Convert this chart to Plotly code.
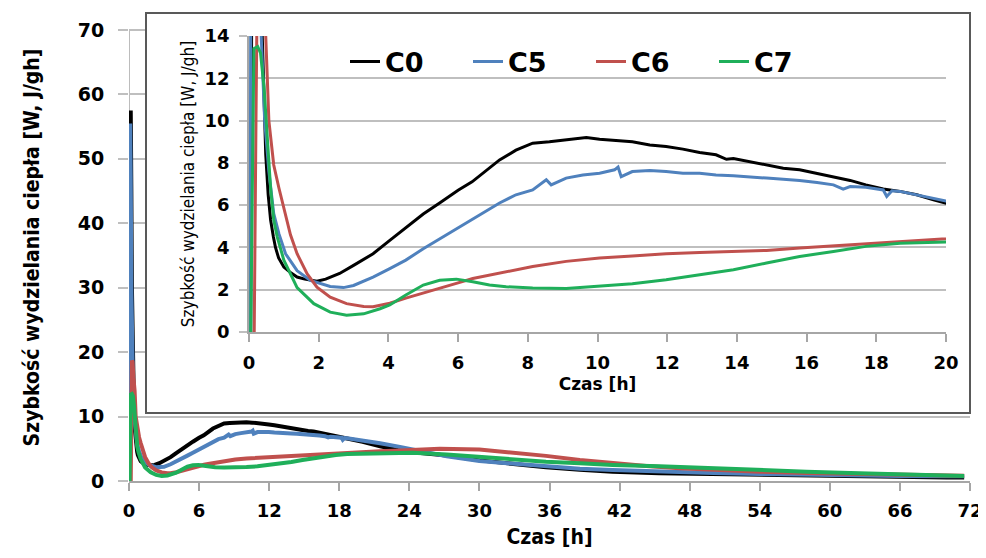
import plotly.graph_objects as go

# ---------------- data ----------------
series_names = ["C0", "C5", "C6", "C7"]
series_colors = ["#000000", "#4F81BD", "#C0504D", "#1FAF5A"]

c0_t = [0.05, 0.15, 0.2, 0.25, 0.3, 0.38, 0.43, 0.48, 0.55, 0.62, 0.7, 0.76, 0.85, 1.0, 1.2, 1.38, 1.6,
        1.76, 1.95, 2.2, 2.6, 3.0, 3.56, 4.04, 4.5, 5.0, 5.47, 6.0, 6.4, 7.19, 7.66, 8.14, 8.62, 9.1,
        9.68, 10.06, 10.54, 11.0, 11.5, 11.97, 12.45, 12.93, 13.4, 13.7, 13.9, 14.37, 14.85, 15.33,
        15.8, 16.3, 16.77, 17.25, 17.7, 18.2, 18.68, 19.16, 19.64, 20.0, 21.5, 23.0, 24.3, 27.2,
        30.0, 32.9, 35.7, 38.6, 41.4, 45.4, 50.0, 54.0, 58.0, 62.5, 66.0, 70.0, 71.5]
c0_v = [0.0, 57.5, 45.0, 30.0, 20.0, 14.0, 11.0, 8.4, 6.5, 5.3, 4.5, 4.0, 3.5, 3.07, 2.8, 2.6, 2.5,
        2.44, 2.4, 2.5, 2.77, 3.15, 3.7, 4.33, 4.95, 5.58, 6.1, 6.7, 7.1, 8.14, 8.6, 8.93, 9.0, 9.09,
        9.2, 9.12, 9.06, 9.0, 8.85, 8.77, 8.65, 8.49, 8.38, 8.17, 8.2, 8.06, 7.9, 7.75,
        7.67, 7.5, 7.35, 7.17, 6.96, 6.76, 6.65, 6.49, 6.25, 6.09, 5.4, 4.8, 4.45, 3.95,
        3.2, 2.64, 2.12, 1.75, 1.45, 1.2, 1.05, 0.95, 0.8, 0.65, 0.6, 0.55, 0.55]

c5_t = [0.03, 0.1, 0.15, 0.2, 0.25, 0.3, 0.35, 0.45, 0.57, 0.71, 0.86, 1.05, 1.38, 1.76, 2.33, 2.71,
        3.0, 3.56, 4.04, 4.5, 5.0, 5.47, 5.95, 6.42, 6.9, 7.19, 7.66, 8.14, 8.53, 8.67, 9.1, 9.58,
        10.06, 10.49, 10.59, 10.68, 11.0, 11.5, 11.97, 12.45, 12.93, 13.4, 13.9, 14.37, 14.85, 15.33,
        15.8, 16.3, 16.77, 17.05, 17.25, 17.7, 18.2, 18.3, 18.45, 18.68, 19.16, 19.64, 20.0, 21.5,
        23.2, 24.3, 27.2, 30.0, 32.9, 35.7, 38.6, 41.4, 45.4, 50.0, 54.0, 58.0, 62.5, 66.0, 70.0, 71.5]
c5_v = [0.0, 55.5, 47.0, 30.0, 20.0, 16.0, 14.0, 10.0, 7.6, 5.6, 4.64, 3.7, 2.9, 2.44, 2.15, 2.1,
        2.2, 2.6, 3.0, 3.4, 3.94, 4.4, 4.88, 5.34, 5.8, 6.1, 6.49, 6.72, 7.2, 6.96, 7.28, 7.43,
        7.51, 7.67, 7.8, 7.35, 7.59, 7.64, 7.59, 7.51, 7.51, 7.43, 7.39, 7.32, 7.28, 7.23,
        7.17, 7.07, 6.96, 6.76, 6.88, 6.85, 6.72, 6.41, 6.68, 6.65, 6.49, 6.33, 6.2, 5.85,
        5.3, 4.9, 3.85, 3.1, 2.7, 2.25, 1.9, 1.7, 1.45, 1.25, 1.1, 0.95, 0.8, 0.78, 0.75, 0.75]

c6_t = [0.1, 0.15, 0.2, 0.25, 0.3, 0.38, 0.48, 0.57, 0.71, 0.86, 1.0, 1.19, 1.38, 1.67, 1.95, 2.33,
        2.8, 3.29, 3.56, 4.04, 4.5, 5.0, 5.47, 5.95, 6.42, 6.9, 7.38, 8.14, 9.1, 10.06, 11.0, 11.97,
        12.93, 13.9, 14.85, 15.8, 16.77, 17.7, 18.68, 20.0, 21.5, 23.2, 26.6, 30.0, 32.9, 35.7, 38.6,
        41.4, 44.3, 47.1, 50.0, 54.0, 58.0, 62.5, 66.0, 70.0, 71.5]
c6_v = [0.0, 0.0, 10.0, 18.7, 18.5, 16.0, 14.0, 10.0, 7.9, 6.8, 5.9, 4.6, 3.7, 2.75, 2.12, 1.65,
        1.34, 1.21, 1.2, 1.36, 1.6, 1.83, 2.06, 2.3, 2.53, 2.69, 2.84, 3.1, 3.34, 3.5, 3.6, 3.7,
        3.76, 3.81, 3.86, 3.97, 4.08, 4.2, 4.28, 4.44, 4.6, 4.75, 5.0, 4.9, 4.4, 3.9, 3.26,
        2.75, 2.33, 1.97, 1.7, 1.45, 1.25, 1.1, 0.95, 0.8, 0.8]

c7_t = [0.05, 0.1, 0.14, 0.25, 0.33, 0.43, 0.52, 0.62, 0.71, 0.81, 1.0, 1.38, 1.86, 2.33, 2.8, 3.29,
        3.76, 4.04, 4.5, 5.0, 5.47, 5.95, 6.42, 6.9, 7.38, 8.14, 9.1, 10.06, 11.0, 11.97, 12.93,
        13.9, 14.85, 15.8, 16.77, 17.7, 18.68, 20.0, 21.5, 23.2, 24.3, 27.2, 30.0, 32.9, 35.7,
        38.6, 41.4, 45.4, 50.0, 54.0, 58.0, 62.5, 66.0, 70.0, 71.5]
c7_v = [0.0, 8.0, 13.4, 13.5, 13.2, 11.6, 9.2, 6.8, 5.3, 4.5, 3.4, 2.1, 1.34, 0.94, 0.79, 0.86,
        1.1, 1.28, 1.75, 2.22, 2.45, 2.5, 2.38, 2.22, 2.14, 2.08, 2.06, 2.16, 2.28, 2.47, 2.71,
        2.94, 3.26, 3.57, 3.81, 4.05, 4.2, 4.28, 4.35, 4.4, 4.4, 4.1, 3.7, 3.3, 3.0,
        2.75, 2.5, 2.3, 1.95, 1.7, 1.45, 1.2, 1.0, 0.82, 0.78]

main_x_ticks = [0, 6, 12, 18, 24, 30, 36, 42, 48, 54, 60, 66, 72]
main_y_ticks = [0, 10, 20, 30, 40, 50, 60, 70]
inset_x_ticks = [0, 2, 4, 6, 8, 10, 12, 14, 16, 18, 20]
inset_y_ticks = [0, 2, 4, 6, 8, 10, 12, 14]

y_title = "Szybkość wydzielania ciepła [W, J/gh]"
x_title = "Czas [h]"

all_t = [c0_t, c5_t, c6_t, c7_t]
all_v = [c0_v, c5_v, c6_v, c7_v]

# ---------------- styling ----------------
GRID = "#BFBFBF"
AXIS = "#A6A6A6"
TICKFONT = dict(family="DejaVu Sans", size=19, color="black", weight="bold")
XTICKFONT = dict(family="DejaVu Sans", size=18, color="black", weight="bold")
INSET_TICKFONT = dict(family="DejaVu Sans", size=18, color="black", weight="bold")
NARROW = "Liberation Sans Narrow, DejaVu Sans Condensed, Arial Narrow, sans-serif"

fig = go.Figure()

# main traces
for name, col, t, v in zip(series_names, series_colors, all_t, all_v):
    fig.add_trace(go.Scatter(x=t, y=v, mode="lines", name=name, showlegend=False,
                             line=dict(color=col, width=4), xaxis="x", yaxis="y"))

# frame subplot (empty), drawn above main plot
fig.add_trace(go.Scatter(x=[], y=[], showlegend=False, xaxis="x2", yaxis="y2", hoverinfo="skip"))

# inset traces
for name, col, t, v in zip(series_names, series_colors, all_t, all_v):
    fig.add_trace(go.Scatter(x=t, y=v, mode="lines", name=name, showlegend=True,
                             line=dict(color=col, width=3), xaxis="x3", yaxis="y3"))

# page has an 8px body margin: the figure is offset by OFF pixels
OFF = 8
W, H = 978, 550
ML, MR, MT, MB = 121, 16, 6, 77
pw, ph = W - ML - MR, H - MT - MB


def px_x(px):
    return min(1.0, max(0.0, (px - OFF - ML) / pw))


def px_y(py):
    return min(1.0, max(0.0, (H - MB - (py - OFF)) / ph))


fig.update_layout(
    width=W, height=H,
    margin=dict(l=ML, r=MR, t=MT, b=MB, autoexpand=False),
    paper_bgcolor="white", plot_bgcolor="white",
    xaxis=dict(domain=[0, 1], range=[0, 72], tickvals=main_x_ticks, showgrid=False,
               showline=True, linecolor=AXIS, linewidth=1.5, ticks="outside", ticklen=8,
               tickcolor=AXIS, tickwidth=1.5, tickfont=XTICKFONT, zeroline=False,
               ticklabelstandoff=5, ticklabeloverflow="allow",
               title=dict(text=x_title, font=dict(family=NARROW, size=21, color="black", weight="bold"),
                          standoff=9)),
    yaxis=dict(domain=[0, 1], range=[0, 72.48], tickvals=main_y_ticks, showgrid=True,
               gridcolor=GRID, gridwidth=1.5, showline=False, ticks="outside", ticklen=10,
               tickcolor=GRID, tickwidth=1.5, tickfont=TICKFONT, zeroline=False,
               ticklabelstandoff=10,
               title=dict(text=y_title, font=dict(family=NARROW, size=21, color="black", weight="bold"),
                          standoff=32)),
    xaxis2=dict(domain=[px_x(147), px_x(969)], range=[0, 1], anchor="y2", showgrid=False,
                zeroline=False, showticklabels=False, ticks="", showline=True, mirror=True,
                linecolor="#595959", linewidth=1.5, fixedrange=True),
    yaxis2=dict(domain=[px_y(412), 1], range=[0, 1], anchor="x2", showgrid=False,
                zeroline=False, showticklabels=False, ticks="", showline=True, mirror=True,
                linecolor="#595959", linewidth=1.5, fixedrange=True),
    xaxis3=dict(domain=[px_x(249), px_x(946)], range=[0, 20], anchor="y3", tickvals=inset_x_ticks,
                showgrid=False, zeroline=False, showline=True, linecolor=AXIS, linewidth=1.5,
                ticks="outside", ticklen=8, tickcolor=AXIS, tickwidth=1.5, tickfont=INSET_TICKFONT,
                ticklabelstandoff=6,
                title=dict(text=x_title, font=dict(family="DejaVu Sans", size=17, color="black",
                                                   weight="bold"), standoff=6)),
    yaxis3=dict(domain=[px_y(332), px_y(36)], range=[0, 14], anchor="x3", tickvals=inset_y_ticks,
                showgrid=True, gridcolor=GRID, gridwidth=1.5, zeroline=False, showline=True,
                linecolor=AXIS, linewidth=1.5, ticks="outside", ticklen=8, tickcolor=GRID,
                tickwidth=1.5, tickfont=INSET_TICKFONT, ticklabelstandoff=6,
                title=dict(text=y_title, font=dict(family=NARROW, size=17, color="black"),
                           standoff=6)),
    legend=dict(orientation="h", x=px_x(345), y=px_y(62), xanchor="left", yanchor="middle",
                bgcolor="rgba(0,0,0,0)", borderwidth=0,
                font=dict(family="DejaVu Sans", size=27, color="black", weight="bold"),
                entrywidth=78, entrywidthmode="pixels", itemwidth=30, tracegroupgap=0),
    shapes=[dict(type="line", xref="x", yref="y", x0=0, x1=0, y0=0, y1=70,
                 line=dict(color=AXIS, width=1.5), layer="below")],
    showlegend=True,
)

fig.write_html("out.html")
